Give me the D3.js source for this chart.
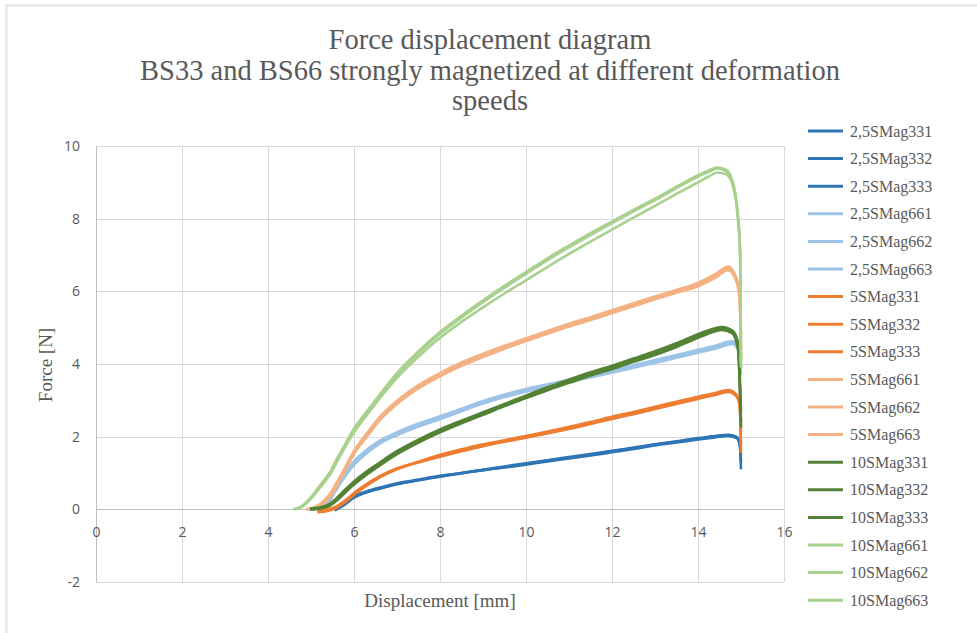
<!DOCTYPE html>
<html>
<head>
<meta charset="utf-8">
<script src="https://cdn.jsdelivr.net/npm/d3@7"></script>
<style>
  body { margin: 0; background: #fff; }
  svg { display: block; }
</style>
</head>
<body>
<div id="chart"></div>
<script>
// force displacement curves
// x in mm, y in N

// 2,5SMag33x (dark blue)
const x25_33 = [5.55, 5.75, 6.0, 6.3, 6.6, 7.0, 7.5, 8.0, 8.5, 9.0, 9.5, 10.0, 10.5, 11.0, 11.5, 12.0, 12.5, 13.0, 13.5, 14.0, 14.4, 14.7, 14.9, 14.97, 15.0];
const y25_331 = [-0.03, 0.12, 0.35, 0.48, 0.58, 0.70, 0.80, 0.90, 0.99, 1.08, 1.16, 1.25, 1.34, 1.42, 1.50, 1.60, 1.68, 1.78, 1.86, 1.94, 2.00, 2.03, 1.97, 1.80, 1.10];
const y25_332 = [-0.02, 0.10, 0.32, 0.47, 0.57, 0.69, 0.80, 0.91, 1.00, 1.09, 1.18, 1.27, 1.35, 1.44, 1.52, 1.61, 1.70, 1.79, 1.87, 1.96, 2.02, 2.05, 1.99, 1.85, 1.30];
const y25_333 = [0.00, 0.14, 0.37, 0.50, 0.60, 0.72, 0.82, 0.92, 1.00, 1.08, 1.15, 1.23, 1.32, 1.40, 1.48, 1.57, 1.66, 1.76, 1.84, 1.92, 1.98, 2.02, 1.96, 1.80, 1.50];

// 2,5SMag66x (light blue)
const x25_66 = [5.2, 5.3, 5.45, 5.6, 5.8, 6.0, 6.3, 6.6, 7.0, 7.5, 8.0, 8.5, 9.0, 9.5, 10.0, 10.5, 11.0, 11.5, 12.0, 12.5, 13.0, 13.5, 14.0, 14.4, 14.8, 14.95, 15.0];
const y25_661 = [0.00, 0.08, 0.30, 0.62, 0.98, 1.28, 1.60, 1.85, 2.08, 2.32, 2.52, 2.74, 2.95, 3.13, 3.28, 3.41, 3.54, 3.67, 3.80, 3.94, 4.08, 4.22, 4.36, 4.47, 4.60, 4.40, 3.70];
const y25_662 = [0.00, 0.06, 0.26, 0.56, 0.92, 1.22, 1.55, 1.81, 2.04, 2.28, 2.48, 2.70, 2.91, 3.09, 3.24, 3.37, 3.50, 3.63, 3.76, 3.90, 4.03, 4.17, 4.31, 4.42, 4.55, 4.35, 3.90];
const y25_663 = [0.02, 0.10, 0.34, 0.66, 1.02, 1.32, 1.64, 1.89, 2.12, 2.36, 2.56, 2.77, 2.98, 3.16, 3.31, 3.44, 3.57, 3.70, 3.84, 3.97, 4.11, 4.25, 4.39, 4.50, 4.63, 4.45, 4.10];

// 5SMag33x (orange)
const x5_33 = [5.15, 5.4, 5.6, 5.8, 6.0, 6.3, 6.6, 7.0, 7.5, 8.0, 8.5, 9.0, 9.5, 10.0, 10.5, 11.0, 11.5, 12.0, 12.5, 13.0, 13.5, 14.0, 14.4, 14.7, 14.9, 14.97, 15.0];
const y5_331 = [-0.06, -0.02, 0.07, 0.22, 0.42, 0.68, 0.90, 1.12, 1.30, 1.47, 1.62, 1.76, 1.88, 1.99, 2.11, 2.24, 2.38, 2.52, 2.65, 2.79, 2.93, 3.07, 3.18, 3.26, 3.12, 2.90, 1.55];
const y5_332 = [-0.08, -0.04, 0.05, 0.20, 0.40, 0.66, 0.88, 1.10, 1.31, 1.50, 1.65, 1.79, 1.90, 2.02, 2.14, 2.27, 2.40, 2.55, 2.68, 2.82, 2.96, 3.10, 3.20, 3.28, 3.15, 2.95, 1.80];
const y5_333 = [-0.05, 0.00, 0.09, 0.25, 0.45, 0.70, 0.91, 1.13, 1.29, 1.45, 1.60, 1.74, 1.86, 1.97, 2.09, 2.21, 2.35, 2.49, 2.62, 2.76, 2.90, 3.04, 3.15, 3.23, 3.10, 2.85, 2.20];

// 5SMag66x (light orange)
const x5_66 = [4.9, 5.06, 5.25, 5.44, 5.6, 5.75, 6.0, 6.3, 6.56, 7.0, 7.5, 8.0, 8.5, 9.0, 9.5, 10.0, 10.5, 11.0, 11.5, 12.0, 12.5, 13.0, 13.5, 14.0, 14.4, 14.7, 14.9, 14.97, 15.0];
const y5_661 = [0.00, 0.03, 0.15, 0.38, 0.70, 1.02, 1.57, 2.05, 2.45, 2.95, 3.38, 3.71, 4.00, 4.24, 4.46, 4.67, 4.87, 5.07, 5.25, 5.44, 5.63, 5.82, 6.00, 6.19, 6.42, 6.64, 6.30, 5.80, 4.20];
const y5_662 = [0.00, 0.02, 0.12, 0.34, 0.65, 0.97, 1.52, 2.00, 2.40, 2.90, 3.33, 3.66, 3.95, 4.19, 4.42, 4.63, 4.83, 5.03, 5.21, 5.40, 5.59, 5.78, 5.96, 6.14, 6.37, 6.58, 6.25, 5.70, 4.50];
const y5_663 = [0.01, 0.05, 0.18, 0.42, 0.74, 1.06, 1.61, 2.09, 2.49, 2.99, 3.42, 3.75, 4.04, 4.28, 4.50, 4.71, 4.91, 5.11, 5.29, 5.48, 5.67, 5.86, 6.04, 6.23, 6.47, 6.68, 6.35, 5.90, 4.80];

// 10SMag33x (dark green)
const x10_33 = [4.98, 5.2, 5.44, 5.6, 5.75, 6.0, 6.3, 6.6, 7.0, 7.5, 8.0, 8.5, 9.0, 9.5, 10.0, 10.5, 11.0, 11.5, 12.0, 12.5, 13.0, 13.5, 14.0, 14.3, 14.55, 14.8, 14.93, 15.0];
const y10_331 = [0.00, 0.03, 0.12, 0.28, 0.45, 0.72, 1.00, 1.25, 1.55, 1.87, 2.15, 2.40, 2.62, 2.87, 3.10, 3.32, 3.52, 3.72, 3.90, 4.10, 4.30, 4.52, 4.78, 4.92, 5.00, 4.88, 4.50, 2.25];
const y10_332 = [0.00, 0.02, 0.10, 0.24, 0.41, 0.68, 0.96, 1.21, 1.52, 1.84, 2.12, 2.37, 2.60, 2.84, 3.06, 3.28, 3.48, 3.68, 3.86, 4.06, 4.25, 4.47, 4.72, 4.86, 4.94, 4.84, 4.40, 2.40];
const y10_333 = [0.02, 0.05, 0.15, 0.31, 0.49, 0.77, 1.05, 1.29, 1.60, 1.92, 2.20, 2.44, 2.67, 2.90, 3.13, 3.36, 3.57, 3.77, 3.95, 4.15, 4.35, 4.57, 4.82, 4.95, 5.02, 4.92, 4.60, 2.70];

// 10SMag66x (light green)
const x10_66 = [4.6, 4.8, 5.06, 5.25, 5.44, 5.6, 5.75, 6.0, 6.3, 6.56, 7.0, 7.5, 8.0, 8.5, 9.0, 9.5, 10.0, 10.5, 11.0, 11.5, 12.0, 12.5, 13.0, 13.5, 14.0, 14.25, 14.45, 14.65, 14.8, 14.92, 14.98, 15.0];
const y10_661 = [0.00, 0.10, 0.42, 0.72, 1.02, 1.38, 1.70, 2.22, 2.70, 3.10, 3.75, 4.35, 4.88, 5.33, 5.75, 6.15, 6.53, 6.91, 7.26, 7.60, 7.92, 8.24, 8.55, 8.88, 9.20, 9.33, 9.41, 9.35, 9.05, 8.20, 7.10, 3.90];
const y10_662 = [0.00, 0.08, 0.38, 0.66, 0.95, 1.30, 1.62, 2.12, 2.60, 3.00, 3.62, 4.20, 4.72, 5.16, 5.56, 5.94, 6.30, 6.67, 7.03, 7.37, 7.70, 8.03, 8.35, 8.68, 9.00, 9.16, 9.27, 9.22, 8.95, 8.10, 7.00, 4.00];
const y10_663 = [0.00, 0.09, 0.40, 0.70, 1.00, 1.35, 1.67, 2.18, 2.66, 3.06, 3.70, 4.30, 4.83, 5.28, 5.70, 6.10, 6.48, 6.86, 7.21, 7.55, 7.88, 8.20, 8.51, 8.84, 9.16, 9.29, 9.38, 9.31, 9.00, 8.15, 7.05, 4.10];

const seriesNames = ['2,5SMag331', '2,5SMag332', '2,5SMag333', '2,5SMag661', '2,5SMag662', '2,5SMag663',
  '5SMag331', '5SMag332', '5SMag333', '5SMag661', '5SMag662', '5SMag663',
  '10SMag331', '10SMag332', '10SMag333', '10SMag661', '10SMag662', '10SMag663'];
const seriesX = [x25_33, x25_33, x25_33, x25_66, x25_66, x25_66,
  x5_33, x5_33, x5_33, x5_66, x5_66, x5_66,
  x10_33, x10_33, x10_33, x10_66, x10_66, x10_66];
const seriesY = [y25_331, y25_332, y25_333, y25_661, y25_662, y25_663,
  y5_331, y5_332, y5_333, y5_661, y5_662, y5_663,
  y10_331, y10_332, y10_333, y10_661, y10_662, y10_663];
const groupColors = ['#2e75b6', '#9dc3e6', '#ed7d31', '#f4b183', '#548235', '#a9d18e'];

const xTicks = [0, 2, 4, 6, 8, 10, 12, 14, 16];
const yTicks = [-2, 0, 2, 4, 6, 8, 10];
const titleLines = ['Force displacement diagram', 'BS33 and BS66 strongly magnetized at different deformation', 'speeds'];

const width = 977, height = 633;
const plot = { left: 96, right: 784, top: 146, bottom: 582 };
const grey = '#595959';
const serif = '"Liberation Serif", "Times New Roman", serif';
const sans = '"Open Sans", "Liberation Sans", sans-serif';

const svg = d3.select('#chart').append('svg')
  .attr('width', width)
  .attr('height', height);

// chart area frame (only top/left edges visible in the crop)
svg.append('path')
  .attr('d', `M6.5,${height} V5.5 H${width}`)
  .attr('fill', 'none')
  .attr('stroke', '#e3e3e3')
  .attr('stroke-width', 2);

const x = d3.scaleLinear().domain([0, 16]).range([plot.left, plot.right]);
const y = d3.scaleLinear().domain([-2, 10]).range([plot.bottom, plot.top]);

// gridlines
svg.append('g').selectAll('line.vg')
  .data(xTicks)
  .enter().append('line')
  .attr('x1', d => x(d) + 0.5).attr('x2', d => x(d) + 0.5)
  .attr('y1', plot.top).attr('y2', plot.bottom)
  .attr('stroke', '#d9d9d9').attr('stroke-width', 1);

svg.append('g').selectAll('line.hg')
  .data(yTicks)
  .enter().append('line')
  .attr('x1', plot.left).attr('x2', plot.right)
  .attr('y1', d => Math.round(y(d)) + 0.5).attr('y2', d => Math.round(y(d)) + 0.5)
  .attr('stroke', d => d === 0 ? '#bfbfbf' : '#d9d9d9').attr('stroke-width', 1);

// axes: y on the left, x labels hang below the zero line
const fmt = d => String(d);
const yAxis = svg.append('g')
  .attr('transform', `translate(${plot.left},0)`)
  .call(d3.axisLeft(y).tickValues(yTicks).tickFormat(fmt).tickSize(0).tickPadding(16));
yAxis.select('.domain').attr('stroke', '#bfbfbf');
yAxis.selectAll('text').attr('fill', grey).style('font-family', sans).style('font-size', '14px');

const xAxis = svg.append('g')
  .attr('transform', `translate(0,${y(0)})`)
  .call(d3.axisBottom(x).tickValues(xTicks).tickFormat(fmt).tickSize(0).tickPadding(18));
xAxis.select('.domain').remove();
xAxis.selectAll('text').attr('fill', grey).style('font-family', sans).style('font-size', '14px');

// series
const line = d3.line()
  .x(d => x(d[0]))
  .y(d => y(d[1]))
  .curve(d3.curveMonotoneX);

svg.append('g').selectAll('path.series')
  .data(seriesNames)
  .enter().append('path')
  .attr('class', 'series')
  .attr('d', (d, i) => line(seriesX[i].map((v, j) => [v, seriesY[i][j]])))
  .attr('fill', 'none')
  .attr('stroke', (d, i) => groupColors[Math.floor(i / 3)])
  .attr('stroke-width', 2.6)
  .attr('stroke-linejoin', 'round');

// title
svg.append('text')
  .attr('x', 490).attr('y', 49)
  .attr('text-anchor', 'middle')
  .attr('fill', grey)
  .style('font-family', serif).style('font-size', '28.5px')
  .selectAll('tspan')
  .data(titleLines)
  .enter().append('tspan')
  .attr('x', 490)
  .attr('dy', (d, i) => i === 0 ? 0 : 30.5)
  .text(d => d);

// axis titles
svg.append('text')
  .attr('x', 440).attr('y', 607)
  .attr('text-anchor', 'middle')
  .attr('fill', grey)
  .style('font-family', serif).style('font-size', '19px')
  .text('Displacement [mm]');

svg.append('text')
  .attr('transform', 'translate(52,365) rotate(-90)')
  .attr('text-anchor', 'middle')
  .attr('fill', grey)
  .style('font-family', serif).style('font-size', '19px')
  .text('Force [N]');

// legend
const legend = svg.append('g').selectAll('g.leg')
  .data(seriesNames)
  .enter().append('g')
  .attr('transform', (d, i) => `translate(808,${131 + i * 27.6})`);

legend.append('line')
  .attr('x1', 0).attr('x2', 35)
  .attr('stroke', (d, i) => groupColors[Math.floor(i / 3)])
  .attr('stroke-width', 3);

legend.append('text')
  .attr('x', 42).attr('y', 5.5)
  .attr('fill', grey)
  .style('font-family', serif).style('font-size', '16px')
  .text(d => d);
</script>
</body>
</html>
